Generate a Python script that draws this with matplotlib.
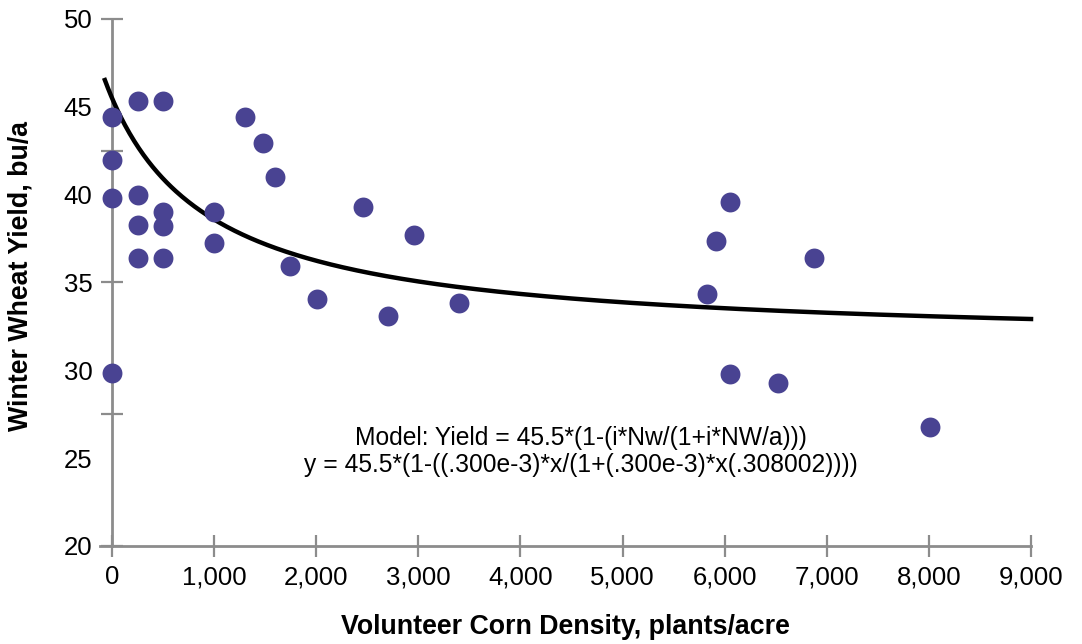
import numpy as np
import matplotlib.pyplot as plt
from matplotlib.ticker import MultipleLocator, FixedLocator, FuncFormatter

plt.rcParams['font.family'] = ['Liberation Sans', 'DejaVu Sans']

# observed plots: volunteer corn density (plants/acre) vs wheat yield (bu/a)
density = [0, 0, 0, 0, 250, 500, 250, 250, 250, 500, 500, 500, 1000, 1000,
           1300, 1480, 1600, 1740, 2010, 2460, 2700, 2960, 3400,
           5830, 5910, 6050, 6050, 6520, 6870, 8010]
yld = [44.4, 42.0, 39.8, 29.85, 45.35, 45.35, 40.0, 38.25, 36.4, 39.0, 38.2, 36.4, 39.0, 37.25,
       44.4, 42.95, 41.0, 35.95, 34.05, 39.3, 33.1, 37.7, 33.85,
       34.35, 37.35, 39.6, 29.8, 29.3, 36.4, 26.75]

y_ticks_marked = [20, 27.5, 35, 42.5, 50]

# model parameters from the printed equation
y_max = 45.5
i_par = 0.300e-3
a_par = 0.308002

xs = np.linspace(-70, 9000, 600)
model = y_max * (1 - (i_par * xs / (1 + i_par * xs / a_par)))

axis_gray = '#8c8c8c'
dot_color = '#494392'

fig = plt.figure(figsize=(10.82, 6.44), dpi=100)
ax = fig.add_axes([0.0922, 0.1522, 0.8607, 0.8183])

ax.plot(xs, model, color='black', lw=3.2, zorder=3, clip_on=False)
ax.scatter(density, yld, s=205, color=dot_color, zorder=4, clip_on=False, linewidths=0)

ax.set_xlim(-120, 9000)
ax.set_ylim(20, 50)

for s in ['top', 'right']:
    ax.spines[s].set_visible(False)
ax.spines['left'].set_position(('data', 0))
ax.spines['left'].set_color(axis_gray)
ax.spines['bottom'].set_color(axis_gray)
ax.spines['left'].set_linewidth(2)
ax.spines['bottom'].set_linewidth(2)

ax.xaxis.set_major_locator(MultipleLocator(1000))
ax.xaxis.set_major_formatter(FuncFormatter(lambda v, p: f'{int(v):,}'))
ax.tick_params(axis='x', which='major', direction='inout', length=16, width=1.6,
               color=axis_gray, labelsize=18.5, pad=6, labelcolor='black')

ax.yaxis.remove_overlapping_locs = False
ax.yaxis.set_major_locator(MultipleLocator(5))
ax.yaxis.set_minor_locator(FixedLocator(y_ticks_marked))
ax.tick_params(axis='y', which='major', length=0, labelsize=18.5, pad=14, labelcolor='black')
ax.tick_params(axis='y', which='minor', direction='inout', length=16, width=1.6,
               color=axis_gray)

ax.set_xlabel('Volunteer Corn Density, plants/acre', fontsize=19.3, fontweight='bold', labelpad=18)
ax.set_ylabel('Winter Wheat Yield, bu/a', fontsize=19.3, fontweight='bold')
ax.yaxis.set_label_coords(-0.071, 0.512)

ax.text(4590, 25.38,
        'Model: Yield = 45.5*(1-(i*Nw/(1+i*NW/a)))\n'
        'y = 45.5*(1-((.300e-3)*x/(1+(.300e-3)*x(.308002))))',
        ha='center', va='center', fontsize=17.7, linespacing=1.2)

fig.savefig('out.png', dpi=100)
